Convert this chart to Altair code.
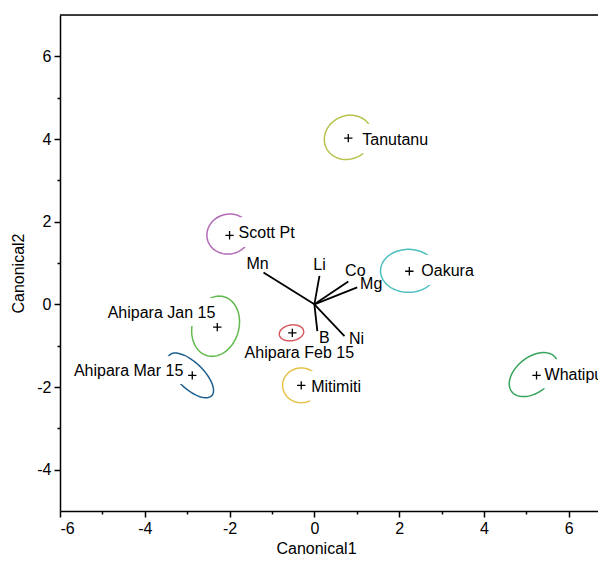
import altair as alt
import pandas as pd
import numpy as np

FONT = "Liberation Sans"

# Group centroids (canonical scores)
groups = ["Tanutanu", "Scott Pt", "Oakura", "Ahipara Jan 15", "Ahipara Mar 15",
          "Ahipara Feb 15", "Mitimiti", "Whatipu"]
cx = [0.80, -2.00, 2.24, -2.29, -2.88, -0.52, -0.31, 5.24]
cy = [4.02, 1.67, 0.80, -0.55, -1.72, -0.69, -1.96, -1.72]
colors = ["#b7c24c", "#b36bb5", "#4fc0c0", "#63b94f", "#1f5f8f", "#d65a5e", "#e6c24a", "#38a35c"]

# Confidence ellipses: centre, semi-axes, rotation (deg)
ecx = [0.80, -2.02, 2.22, -2.33, -2.92, -0.54, -0.31, 5.17]
ecy = [4.04, 1.70, 0.81, -0.53, -1.72, -0.69, -1.96, -1.70]
semi_a = [0.58, 0.52, 0.66, 0.74, 0.70, 0.29, 0.44, 0.66]
semi_b = [0.52, 0.48, 0.52, 0.55, 0.31, 0.19, 0.42, 0.42]
angle = [30, 20, 0, 75, -45, 10, 0, 40]

# Biplot rays
variables = ["Mn", "Li", "Co", "Mg", "B", "Ni"]
ray_x = [-1.20, 0.12, 0.80, 1.01, 0.07, 0.71]
ray_y = [0.77, 0.69, 0.55, 0.41, -0.65, -0.77]

# label offsets (px), alignment, halo width
label_style = {
    "Tanutanu": (14, 2, "left", 18),
    "Scott Pt": (9, -2, "left", 18),
    "Oakura": (12, 0, "left", 18),
    "Ahipara Jan 15": (-2, -14, "right", 16),
    "Ahipara Mar 15": (-9, -4, "right", 16),
    "Ahipara Feb 15": (7, 20, "center", 4),
    "Mitimiti": (10, 2, "left", 18),
    "Whatipu": (8, 0, "left", 18),
    "Mn": (-6, -9, "center", 0),
    "Li": (0, -11, "center", 0),
    "Co": (7, -11, "center", 0),
    "Mg": (14, -3, "center", 0),
    "B": (7, 7, "center", 0),
    "Ni": (12, 3, "center", 0),
}

# build ellipse outlines
rows = []
t = np.linspace(0, 2 * np.pi, 91)
for g, x0, y0, a, b, ang in zip(groups, ecx, ecy, semi_a, semi_b, angle):
    th = np.deg2rad(ang)
    xs = x0 + a * np.cos(th) * np.cos(t) - b * np.sin(th) * np.sin(t)
    ys = y0 + a * np.sin(th) * np.cos(t) + b * np.cos(th) * np.sin(t)
    for i, (xx, yy) in enumerate(zip(xs, ys)):
        rows.append({"group": g, "i": i, "x": xx, "y": yy})
ell_df = pd.DataFrame(rows)

cent_df = pd.DataFrame({"group": groups, "x": cx, "y": cy})
ray_df = pd.DataFrame({"var": variables, "x0": 0.0, "y0": 0.0, "x": ray_x, "y": ray_y})
lab_df = pd.DataFrame({"name": groups + variables, "x": cx + ray_x, "y": cy + ray_y})

W, H = 538, 496
xscale = alt.Scale(domain=[-6, 6.69], nice=False, zero=False)
yscale = alt.Scale(domain=[-5, 7], nice=False, zero=False)

common_axis = dict(
    grid=False, domainColor="black", tickColor="black", labelColor="black",
    titleColor="black", labelFont=FONT, titleFont=FONT, labelFontSize=16,
    titleFontSize=16, titleFontWeight="normal", domainWidth=1.5, tickWidth=1.5,
    labelPadding=3,
    labelExpr="datum.value % 2 === 0 ? toString(datum.value) : ''",
    tickSize={"condition": {"test": "datum.value % 2 !== 0", "value": 3}, "value": 6},
)

xaxis = alt.Axis(values=list(range(-6, 7)), title="Canonical1",
                 titleX=256, titleY=37, titleBaseline="middle", **common_axis)
yaxis = alt.Axis(values=list(range(-4, 7)), title="Canonical2",
                 titleX=-42, titleY=258, titleBaseline="middle", titleAngle=-90,
                 **common_axis)

X = alt.X("x:Q", scale=xscale, axis=xaxis)
Y = alt.Y("y:Q", scale=yscale, axis=yaxis)

ellipses = alt.Chart(ell_df).mark_line(strokeWidth=1.5, clip=True).encode(
    x=X, y=Y,
    color=alt.Color("group:N", scale=alt.Scale(domain=groups, range=colors), legend=None),
    detail="group:N",
    order="i:Q",
)

rays = alt.Chart(ray_df).mark_rule(color="black", strokeWidth=1.8).encode(
    x=alt.X("x0:Q", scale=xscale, axis=xaxis),
    y=alt.Y("y0:Q", scale=yscale, axis=yaxis),
    x2="x:Q", y2="y:Q",
)

plus = alt.Chart(cent_df).mark_point(
    shape="M-1,0L1,0M0,-1L0,1", filled=False, stroke="black", strokeWidth=1.3, size=70, opacity=1
).encode(x=X, y=Y)

halos = []
texts = []
for name, (dx, dy, align, hw) in label_style.items():
    base = alt.Chart(lab_df).transform_filter(alt.datum.name == name)
    if hw > 0:
        halos.append(base.mark_text(dx=dx, dy=dy, align=align, baseline="middle", font=FONT,
                                    fontSize=16, fill="white", stroke="white", strokeWidth=hw,
                                    strokeJoin="round").encode(x=X, y=Y, text="name:N"))
    texts.append(base.mark_text(dx=dx, dy=dy, align=align, baseline="middle", font=FONT,
                                fontSize=16, color="black").encode(x=X, y=Y, text="name:N"))

top_border = alt.Chart(pd.DataFrame({"a": [0]})).mark_rule(color="black", strokeWidth=1.5).encode(
    x=alt.value(0), x2=alt.value(W), y=alt.value(0)
)

chart = alt.layer(ellipses, rays, *halos, plus, *texts, top_border).properties(
    width=W, height=H,
    autosize=alt.AutoSizeParams(type="none"),
    padding={"left": 52, "top": 7, "right": 0, "bottom": 45},
).configure_view(stroke=None).configure(background="white")

chart.save("out.html", embed_options={"renderer": "svg", "actions": False})
